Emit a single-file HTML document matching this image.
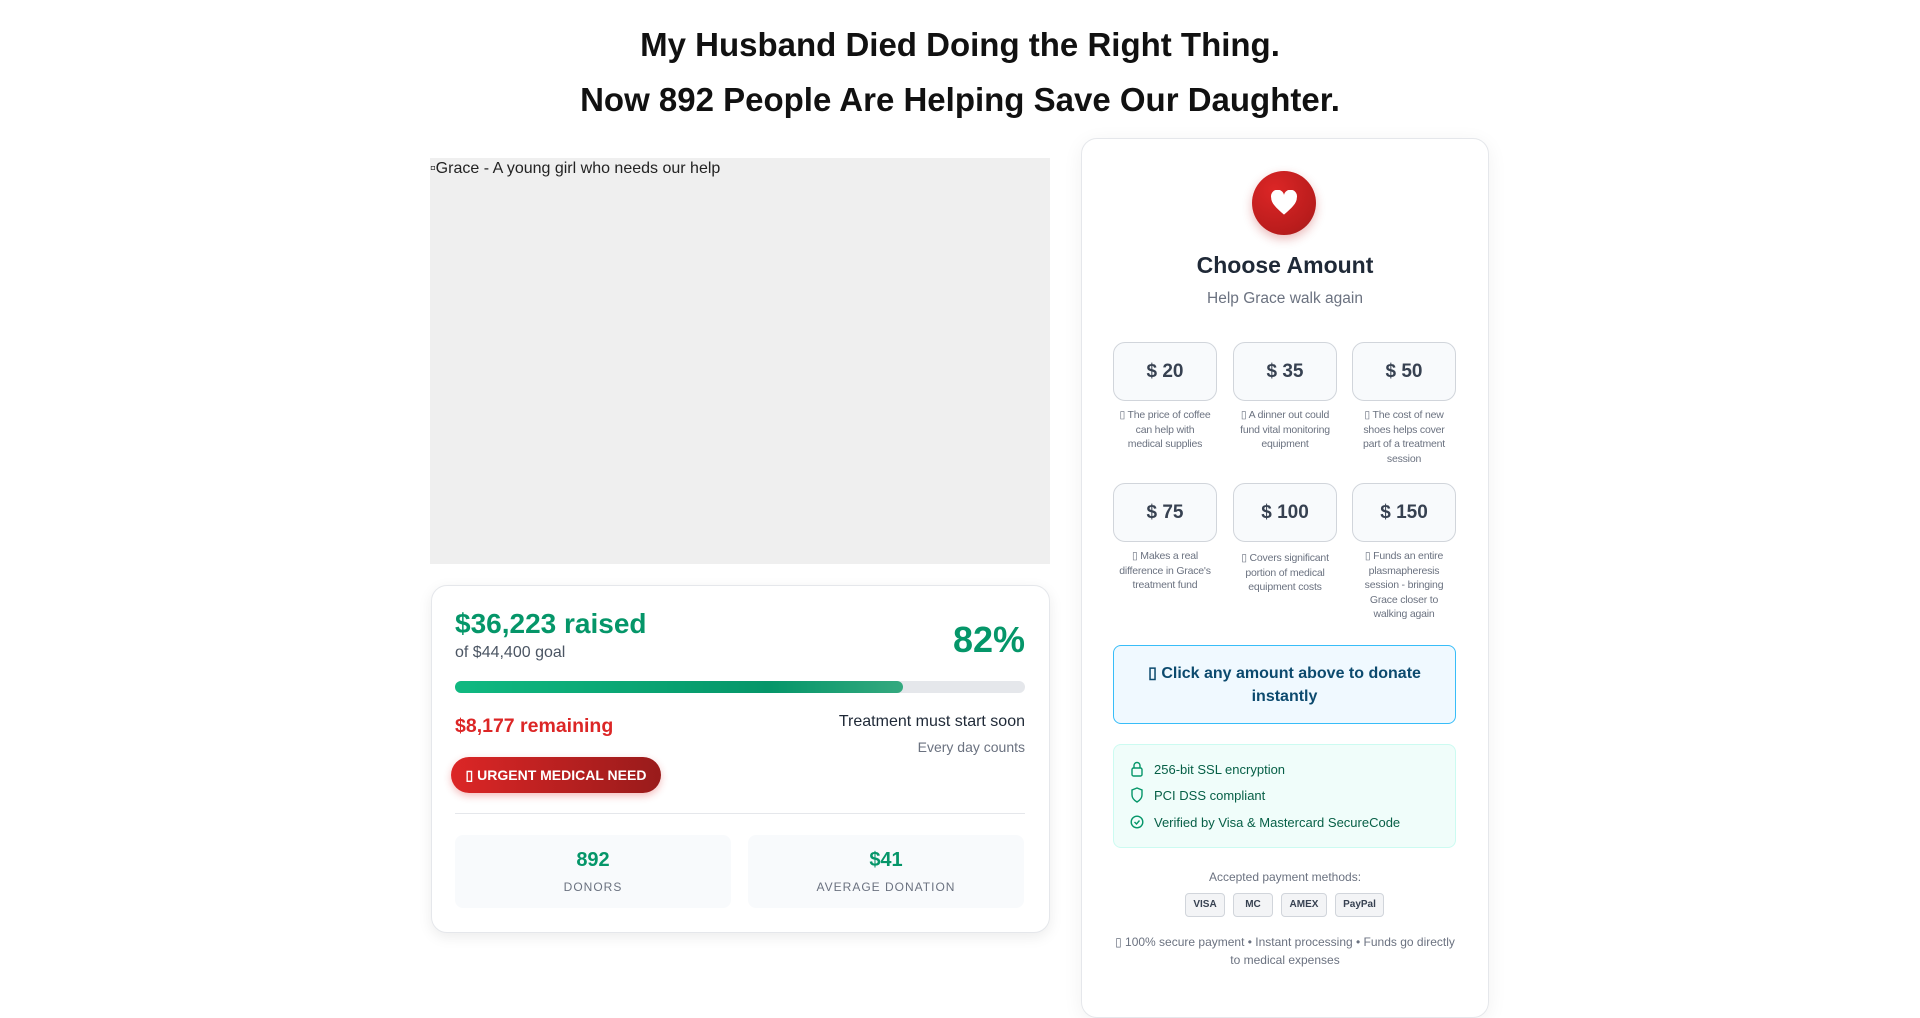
<!DOCTYPE html>
<html><head><meta charset="utf-8"><style>
*{box-sizing:border-box;margin:0;padding:0}
body{width:1920px;height:993px;overflow:hidden;background:#fff;font-family:"Liberation Sans",Arial,sans-serif;color:#1f2937;position:relative}
.a{position:absolute}
h1{position:absolute;left:0;width:1920px;text-align:center;font-size:33px;font-weight:bold;color:#111;line-height:54px}
.img{left:430px;top:158px;width:620px;height:406px;background:#efefef;font-size:16px;color:#222;padding:2px 0 0 0}
.card{left:431px;top:585px;width:619px;height:348px;border:1px solid #e5e7eb;border-radius:16px;box-shadow:0 4px 14px rgba(0,0,0,.08);background:#fff}
.rc{left:1081px;top:138px;width:408px;height:880px;border:1px solid #e5e7eb;border-radius:16px;box-shadow:0 4px 20px rgba(0,0,0,.06);background:#fff}
.btn{width:104px;height:59px;border:1px solid #d1d5db;border-radius:12px;background:#f8fafc;text-align:center;line-height:57px;font-size:19px;font-weight:bold;color:#374151}
.desc{width:92px;margin-left:6px;text-align:center;font-size:10.5px;line-height:14.5px;color:#6b7280;letter-spacing:-0.2px}
.sec{font-size:13px;color:#065f46;left:1154px}
.badge{top:893px;height:24px;border:1px solid #d1d5db;border-radius:4px;background:#f3f4f6;font-size:10px;font-weight:bold;color:#374151;line-height:22px;text-align:center}
.box{top:835px;width:276px;height:73px;background:#f8fafc;border-radius:8px;text-align:center}
</style></head><body>
<h1 style="top:18px">My Husband Died Doing the Right Thing.</h1>
<h1 style="top:73px">Now 892 People Are Helping Save Our Daughter.</h1>
<div class="a img">▫Grace - A young girl who needs our help</div>

<div class="a card"></div>
<div class="a" style="left:455px;top:608px;font-size:28px;font-weight:bold;color:#059669">$36,223 raised</div>
<div class="a" style="left:455px;top:644px;font-size:16px;color:#4b5563">of $44,400 goal</div>
<div class="a" style="left:900px;width:125px;text-align:right;top:619px;font-size:36px;font-weight:bold;color:#059669">82%</div>
<div class="a" style="left:455px;top:681px;width:570px;height:12px;border-radius:6px;background:#e5e7eb"></div>
<div class="a" style="left:455px;top:681px;width:448px;height:12px;border-radius:6px;background:linear-gradient(90deg,#10b981,#059669 70%,#34a97f)"></div>
<div class="a" style="left:455px;top:715px;font-size:19.5px;font-weight:bold;color:#dc2626">$8,177 remaining</div>
<div class="a" style="left:700px;width:325px;text-align:right;top:713px;font-size:16px;color:#1f2937">Treatment must start soon</div>
<div class="a" style="left:700px;width:325px;text-align:right;top:739px;font-size:14px;color:#6b7280">Every day counts</div>
<div class="a" style="left:451px;top:757px;width:210px;height:36px;border-radius:18px;background:linear-gradient(90deg,#dc2626,#991b1b);color:#fff;font-size:14px;font-weight:bold;text-align:center;line-height:36px;box-shadow:0 3px 8px rgba(220,38,38,.3)">▯ URGENT MEDICAL NEED</div>
<div class="a" style="left:455px;top:813px;width:570px;height:1px;background:#e5e7eb"></div>
<div class="a box" style="left:455px"><div style="font-size:20px;font-weight:bold;color:#059669;margin-top:14px">892</div><div style="font-size:12px;color:#6b7280;letter-spacing:1px;margin-top:8px">DONORS</div></div>
<div class="a box" style="left:748px"><div style="font-size:20px;font-weight:bold;color:#059669;margin-top:14px">$41</div><div style="font-size:12px;color:#6b7280;letter-spacing:1px;margin-top:8px">AVERAGE DONATION</div></div>

<div class="a rc"></div>
<div class="a" style="left:1252px;top:171px;width:64px;height:64px;border-radius:50%;background:radial-gradient(circle at 35% 30%,#dc2626,#b91c1c 70%,#991b1b);box-shadow:0 4px 10px rgba(185,28,28,.3)"></div>
<svg class="a" style="left:1270px;top:190px" width="28" height="26" viewBox="0 0 24 22"><path d="M12 21 C5 15 1 11 1 6.5 A5 5 0 0 1 12 4 A5 5 0 0 1 23 6.5 C23 11 19 15 12 21Z" fill="#fff"/></svg>
<div class="a" style="left:1081px;width:408px;text-align:center;top:252px;font-size:23px;font-weight:bold;color:#1f2937">Choose Amount</div>
<div class="a" style="left:1081px;width:408px;text-align:center;top:290px;font-size:15.5px;color:#6b7280">Help Grace walk again</div>

<div class="a btn" style="left:1113px;top:342px">$ 20</div>
<div class="a btn" style="left:1233px;top:342px">$ 35</div>
<div class="a btn" style="left:1352px;top:342px">$ 50</div>
<div class="a desc" style="left:1113px;top:408px">▯ The price of coffee can help with medical supplies</div>
<div class="a desc" style="left:1233px;top:408px">▯ A dinner out could fund vital monitoring equipment</div>
<div class="a desc" style="left:1352px;top:408px">▯ The cost of new shoes helps cover part of a treatment session</div>
<div class="a btn" style="left:1113px;top:483px">$ 75</div>
<div class="a btn" style="left:1233px;top:483px">$ 100</div>
<div class="a btn" style="left:1352px;top:483px">$ 150</div>
<div class="a desc" style="left:1113px;top:549px">▯ Makes a real difference in Grace's treatment fund</div>
<div class="a desc" style="left:1233px;top:551px">▯ Covers significant portion of medical equipment costs</div>
<div class="a desc" style="left:1352px;top:549px">▯ Funds an entire plasmapheresis session - bringing Grace closer to walking again</div>

<div class="a" style="left:1113px;top:645px;width:343px;height:79px;border:1px solid #38bdf8;border-radius:8px;background:#f0f9ff;text-align:center;font-size:16px;font-weight:bold;color:#0c4a6e;line-height:23px;padding-top:16px">▯ Click any amount above to donate<br>instantly</div>

<div class="a" style="left:1113px;top:744px;width:343px;height:104px;border:1px solid #ccfbf1;border-radius:8px;background:#f0fdfa"></div>
<svg class="a" style="left:1130px;top:761px" width="14" height="16" viewBox="0 0 14 16" fill="none" stroke="#059669" stroke-width="1.4"><rect x="2" y="7" width="10" height="8" rx="1.5"/><path d="M4 7V4.5a3 3 0 0 1 6 0V7"/></svg>
<div class="a sec" style="top:762px">256-bit SSL encryption</div>
<svg class="a" style="left:1130px;top:787px" width="14" height="16" viewBox="0 0 14 16" fill="none" stroke="#059669" stroke-width="1.4"><path d="M7 1L2 3v5c0 3 2.5 5.5 5 7 2.5-1.5 5-4 5-7V3z"/></svg>
<div class="a sec" style="top:788px">PCI DSS compliant</div>
<svg class="a" style="left:1130px;top:814px" width="14" height="16" viewBox="0 0 14 16" fill="none" stroke="#059669" stroke-width="1.4"><circle cx="7" cy="8" r="5.8"/><path d="M4.5 8l2 2 3-3.5"/></svg>
<div class="a sec" style="top:815px">Verified by Visa &amp; Mastercard SecureCode</div>

<div class="a" style="left:1081px;width:408px;text-align:center;top:870px;font-size:12px;color:#6b7280">Accepted payment methods:</div>
<div class="a badge" style="left:1185px;width:40px">VISA</div>
<div class="a badge" style="left:1233px;width:40px">MC</div>
<div class="a badge" style="left:1281px;width:46px">AMEX</div>
<div class="a badge" style="left:1335px;width:49px">PayPal</div>
<div class="a" style="left:1110px;width:350px;text-align:center;top:933px;font-size:12px;line-height:18px;color:#6b7280">▯ 100% secure payment • Instant processing • Funds go directly to medical expenses</div>
</body></html>
